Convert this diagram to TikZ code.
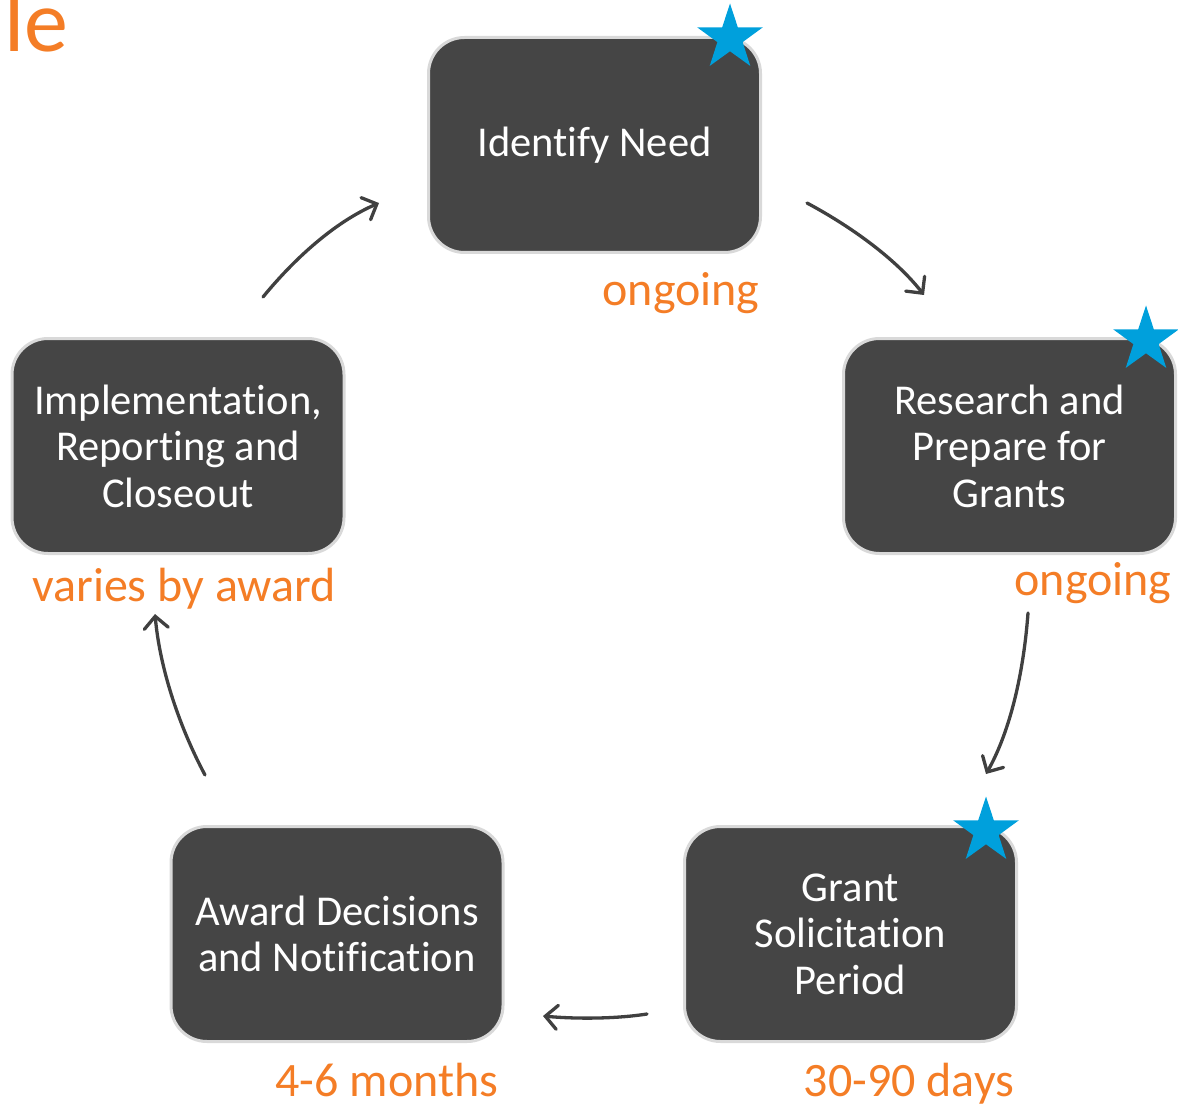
\documentclass[tikz,border=0pt]{standalone}
\usepackage{fontspec}
\setmainfont[Ligatures=NoCommon]{Carlito}
\usetikzlibrary{shapes.geometric,arrows.meta}
\definecolor{boxfill}{RGB}{69,69,69}
\definecolor{boxedge}{RGB}{217,217,217}
\definecolor{accent}{RGB}{244,125,38}
\definecolor{starblue}{RGB}{0,160,220}
\definecolor{arrowgray}{RGB}{64,64,64}
\tikzset{
  stagebox/.style={draw=boxedge, fill=boxfill, line width=3pt, rounded corners=36pt,
    minimum width=332pt, minimum height=215pt, text=white, align=center,
    font=\fontsize{42.5}{46.5}\selectfont, inner sep=0pt},
  durlabel/.style={text=accent, font=\fontsize{48}{52}\selectfont, anchor=base, inner sep=0pt},
  bluestar/.style={star, star points=5, star point ratio=2.6, fill=starblue, draw=none,
    minimum size=69pt, inner sep=0pt},
  cyclearrow/.style={draw=arrowgray, line width=3.3pt, line cap=round,
    -{Straight Barb[length=12pt, width=24pt, line cap=round]}}
}
\begin{document}
\begin{tikzpicture}[x=1pt, y=-1pt]
\useasboundingbox (0,0) rectangle (1178,1107);
\node[text=accent, font=\fontsize{88}{90}\selectfont, anchor=base east, inner sep=0pt] (title) at (69,52) {le};

\node[stagebox] (need) at (594.5,145) {Identify Need};
\node[stagebox] (research) at (1009.5,446) {Research and\\Prepare for\\Grants};
\node[stagebox] (solicit) at (850.5,934) {Grant\\Solicitation\\Period};
\node[stagebox] (award) at (337,934) {Award Decisions\\and Notification};
\node[stagebox] (impl) at (178,446) {Implementation,\\Reporting and\\Closeout};

\node[bluestar] (s1) at (730,38) {};
\node[bluestar] (s2) at (1146,340) {};
\node[bluestar] (s3) at (986,831) {};

\node[durlabel] (l1) at (681,306) {ongoing};
\node[durlabel] (l2) at (1093,595) {ongoing};
\node[durlabel] (l3) at (909,1096) {30-90 days};
\node[durlabel] (l4) at (387,1096) {4-6 months};
\node[durlabel] (l5) at (184,601) {varies by award};

\coordinate (a1s) at (807,203); \coordinate (a1e) at (924,295);
\coordinate (a2s) at (1028,613); \coordinate (a2e) at (986,774);
\coordinate (a3s) at (647,1014); \coordinate (a3e) at (543,1016);
\coordinate (a4s) at (205,775); \coordinate (a4e) at (155,614);
\coordinate (a5s) at (263,297); \coordinate (a5e) at (379,203);

\draw[cyclearrow] (a1s) .. controls (850,226) and (895,258) .. (a1e);
\draw[cyclearrow] (a2s) .. controls (1023,680) and (1008,735) .. (a2e);
\draw[cyclearrow] (a3s) .. controls (615,1019) and (575,1019) .. (a3e);
\draw[cyclearrow] (a4s) .. controls (180,728) and (160,670) .. (a4e);
\draw[cyclearrow] (a5s) .. controls (295,258) and (335,222) .. (a5e);
\end{tikzpicture}
\end{document}
